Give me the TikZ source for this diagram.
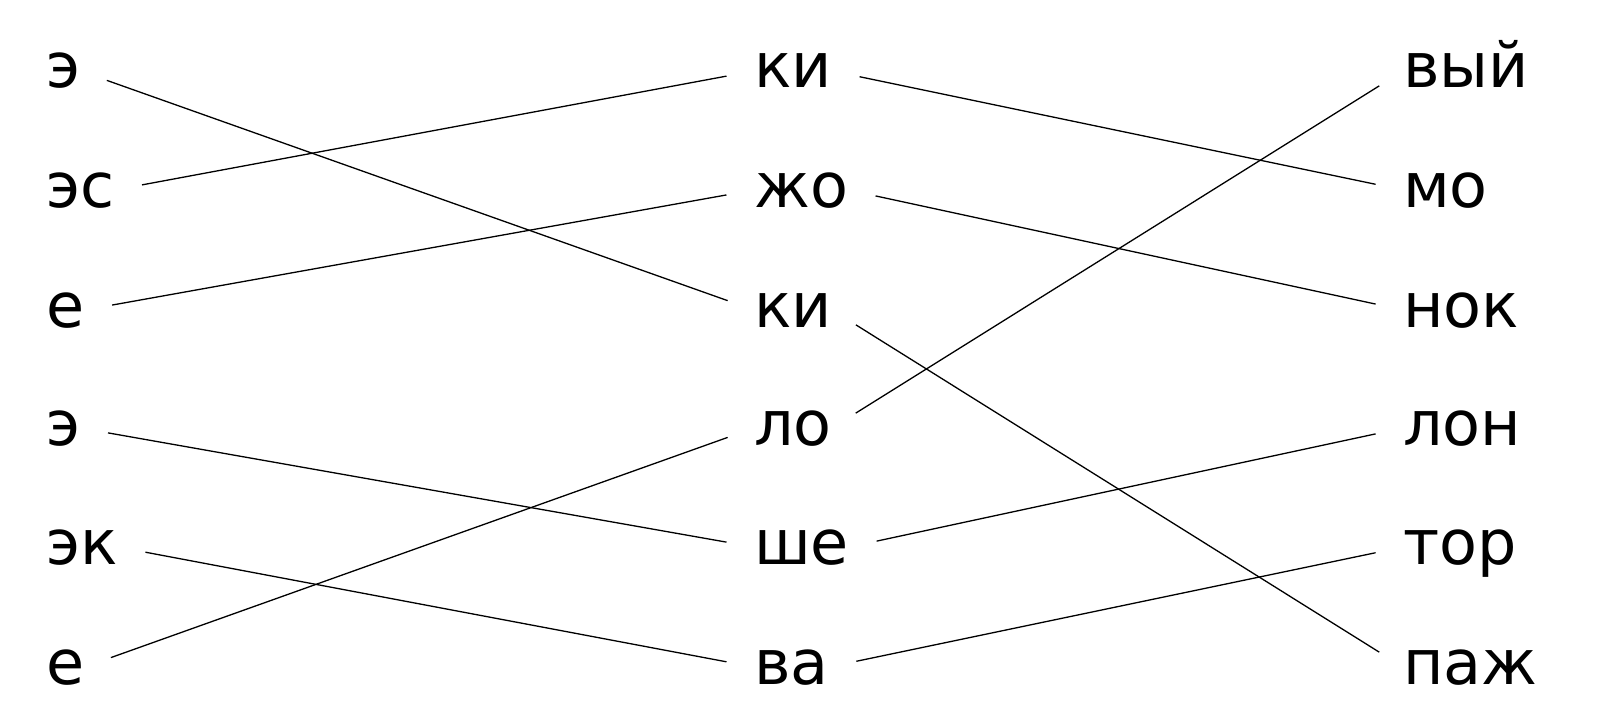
\documentclass[tikz,border=0pt]{standalone}
\usepackage{fontspec}
\setmainfont{DejaVu Sans}
\begin{document}
\begin{tikzpicture}[x=1pt,y=-1pt,
  word/.style={anchor=west,inner xsep=0pt,inner ysep=0pt,text height=34pt,text depth=0pt,font=\fontsize{62}{62}\selectfont},
  link/.style={line width=1.3pt,shorten <=28pt,shorten >=28pt}]
\useasboundingbox (0,0) rectangle (1606,725);
\def\ya{71}\def\yb{190}\def\yc{310}\def\yd{428}\def\ye{547}\def\yf{667}
\node[word] (l1) at (46,\ya) {э};
\node[word] (l2) at (46,\yb) {эс};
\node[word] (l3) at (46,\yc) {е};
\node[word] (l4) at (46,\yd) {э};
\node[word] (l5) at (46,\ye) {эк};
\node[word] (l6) at (46,\yf) {е};
\node[word] (m1) at (754,\ya) {ки};
\node[word] (m2) at (754,\yb) {жо};
\node[word] (m3) at (754,\yc) {ки};
\node[word] (m4) at (754,\yd) {ло};
\node[word] (m5) at (754,\ye) {ше};
\node[word] (m6) at (754,\yf) {ва};
\node[word] (r1) at (1403,\ya) {вый};
\node[word] (r2) at (1403,\yb) {мо};
\node[word] (r3) at (1403,\yc) {нок};
\node[word] (r4) at (1403,\yd) {лон};
\node[word] (r5) at (1403,\ye) {тор};
\node[word] (r6) at (1403,\yf) {паж};
\draw[link] (l1.east) -- (m3.west);
\draw[link] (l2.east) -- (m1.west);
\draw[link] (l3.east) -- (m2.west);
\draw[link] (l4.east) -- (m5.west);
\draw[link] (l5.east) -- (m6.west);
\draw[link] (l6.east) -- (m4.west);
\draw[link] (m1.east) -- (r2.west);
\draw[link] (m2.east) -- (r3.west);
\draw[link] (m3.east) -- (r6.west);
\draw[link] (m4.east) -- (r1.west);
\draw[link] (m5.east) -- (r4.west);
\draw[link] (m6.east) -- (r5.west);
\end{tikzpicture}
\end{document}
